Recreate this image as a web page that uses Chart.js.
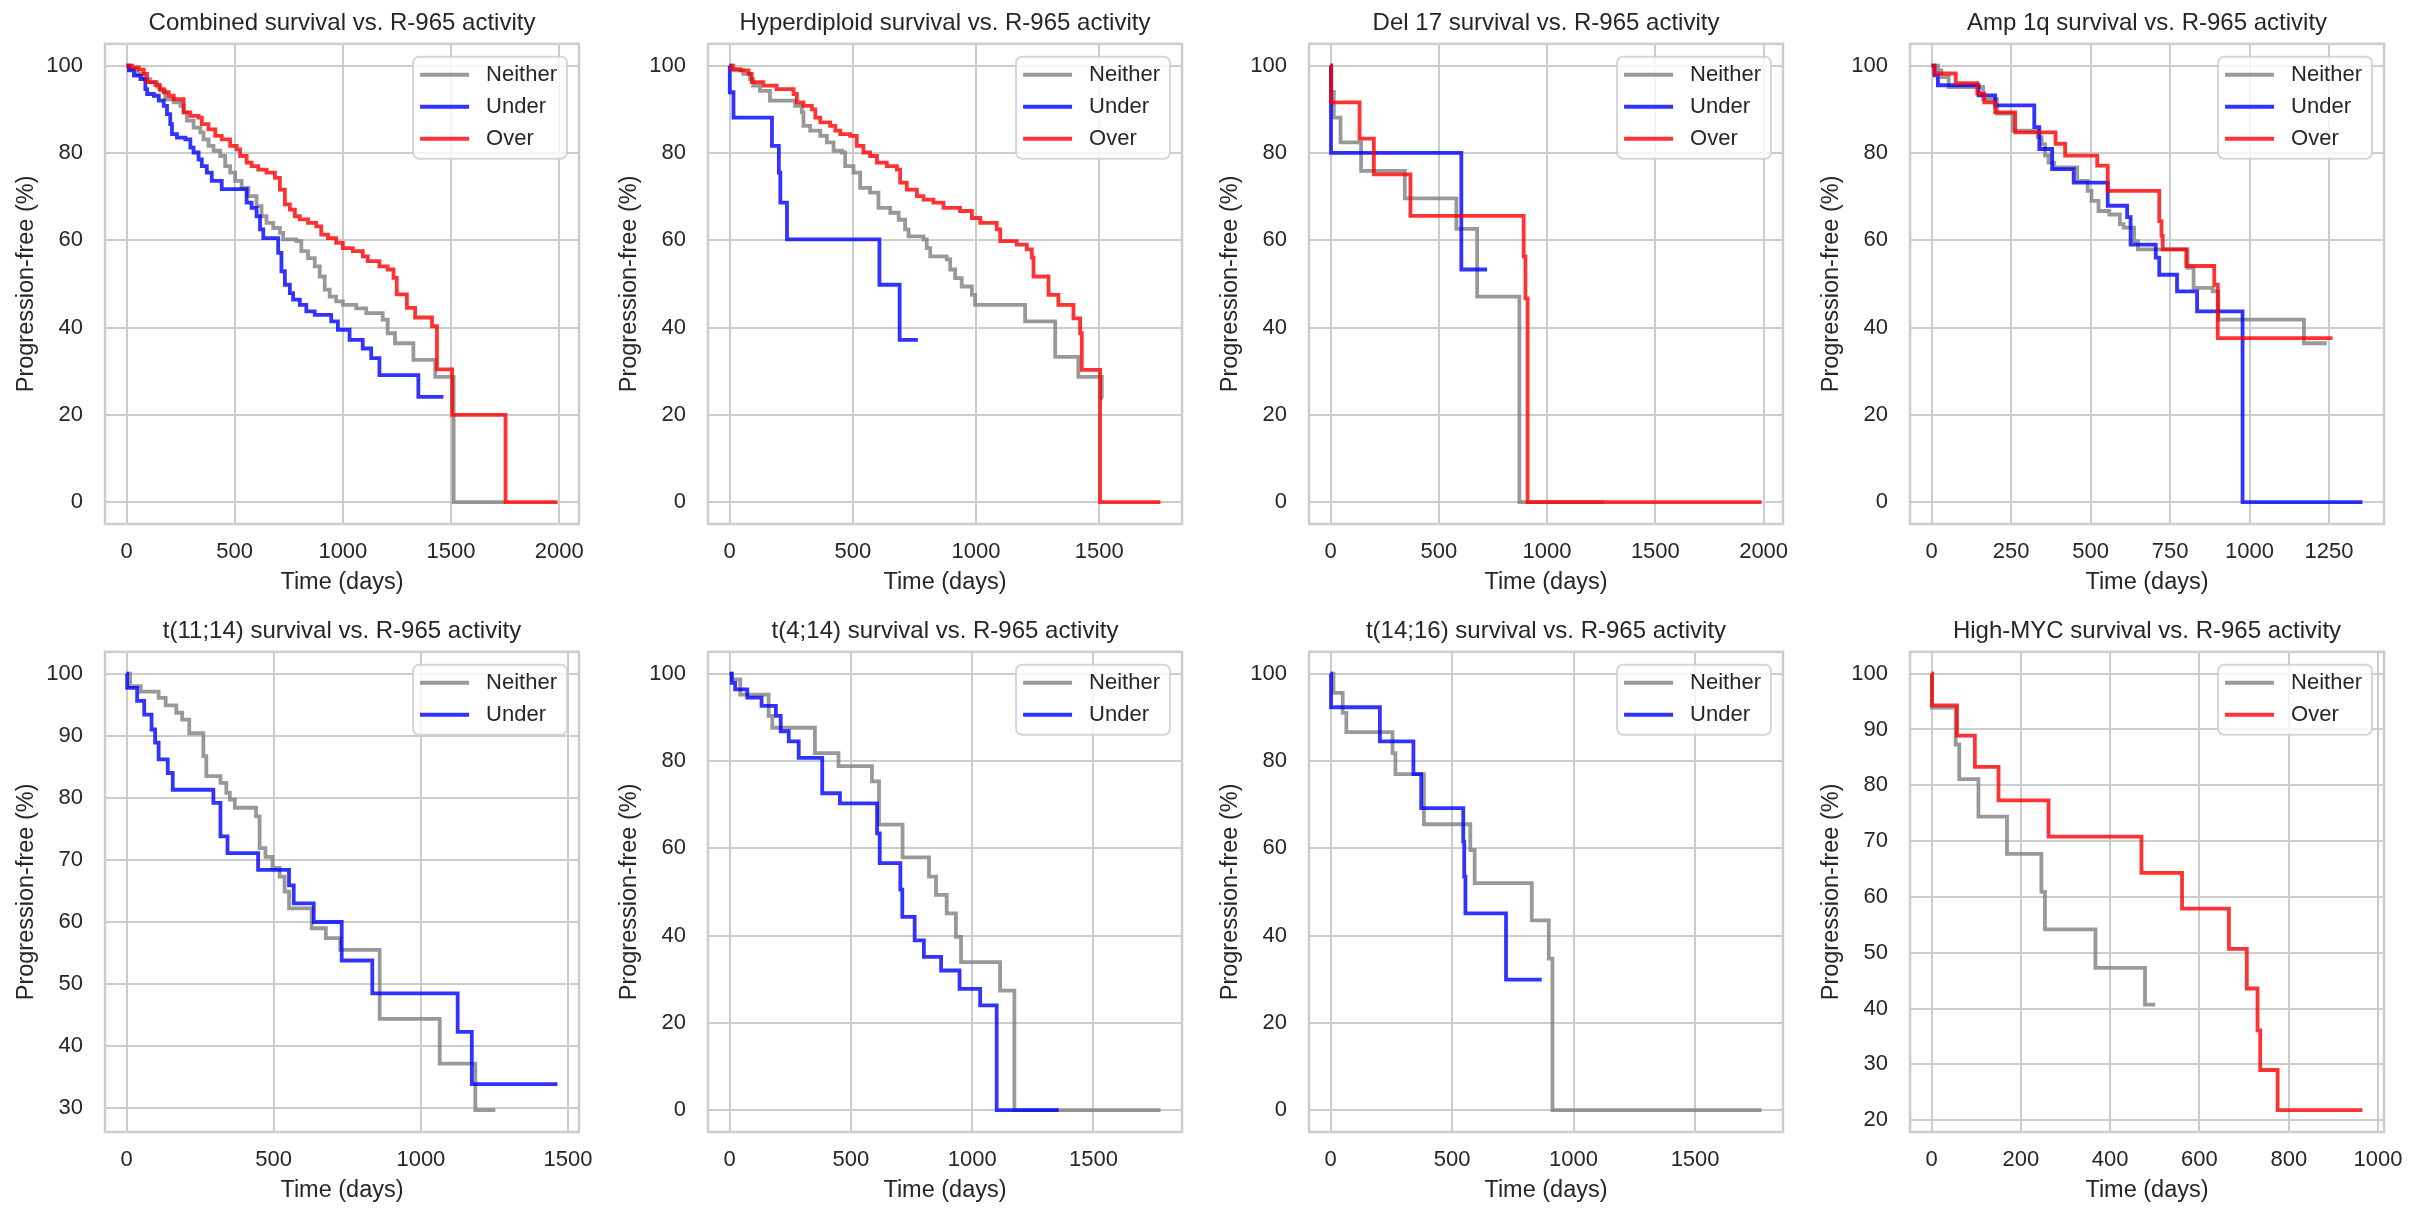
<!DOCTYPE html>
<html>
<head>
<meta charset="utf-8">
<script src="https://cdn.jsdelivr.net/npm/chart.js@4.4.0/dist/chart.umd.min.js"></script>
<style>
  html, body { margin: 0; padding: 0; background: #fff; width: 2418px; height: 1218px; overflow: hidden; }
  canvas { position: absolute; }
</style>
</head>
<body>
<script>
// ---- Combined ----
const combinedNeitherT = [0,18,49,80,110,141,156,179,218,249,264,279,310,341,356,379,402,433,456,479,502,532,563,601,624,647,678,709,724,785,808,839,870,893,916,939,969,1000,1062,1108,1184,1207,1241,1326,1427,1512,1752];
const combinedNeitherS = [100,99.2,98.1,96.9,96.2,95.2,94.3,92.3,91.6,90.8,89.3,87.4,85.8,84.7,83.1,81.6,80.5,79.3,77.0,75.5,73.6,72.0,70.1,67.8,65.5,64.0,62.8,61.7,60.2,59.8,57.5,55.9,54.0,51.7,48.7,47.1,46.0,45.2,44.4,43.3,41.8,38.7,36.4,32.6,28.7,0,0];
const combinedUnderT = [0,11,34,64,87,95,126,149,172,187,202,210,233,272,295,310,333,348,371,394,440,555,578,601,617,632,701,716,732,755,770,801,831,870,946,977,1031,1092,1131,1169,1349,1465];
const combinedUnderS = [100,98.9,97.7,96.9,94.6,93.5,93.1,92.0,90.8,88.9,86.6,84.3,83.5,83.1,81.2,80.1,78.5,77.0,75.5,73.6,71.7,68.6,67.4,65.5,62.5,60.5,57.1,52.9,49.8,47.9,46.4,45.2,43.7,42.9,41.4,39.5,37.2,35.2,33.0,29.1,24.1,24.1];
const combinedOverT = [0,26,57,80,95,133,153,172,195,218,264,295,333,348,379,410,440,479,509,525,555,578,609,647,686,709,732,755,778,801,839,877,900,931,969,1000,1046,1092,1115,1169,1207,1234,1249,1296,1334,1412,1435,1505,1752,1992];
const combinedOverS = [100,99.6,99.1,98.1,96.2,95.6,94.6,93.9,93.1,92.3,89.3,88.5,88.1,86.6,85.4,83.9,83.1,81.6,80.8,79.3,77.8,77.0,76.2,75.5,74.3,71.6,68.2,67.0,65.5,64.8,64.0,63.2,61.3,60.5,59.4,58.2,57.5,56.3,55.2,54.0,53.3,51.4,47.6,44.5,42.3,40.3,30.4,20.0,0,0];

// ---- Hyperdiploid ----
const hyperNeitherT = [0,16,56,83,96,123,164,266,293,300,327,368,395,422,456,469,503,530,570,604,652,686,712,726,787,800,814,881,895,915,942,983,996,1199,1321,1415,1510,1515];
const hyperNeitherS = [100,98.9,98.1,96.9,95.4,94.2,92.0,90.8,89.3,86.2,85.1,83.9,82.4,80.5,80.1,77.0,75.5,72.0,70.9,67.4,66.3,64.7,62.5,60.9,60.2,58.2,56.3,55.6,53.3,51.3,49.4,47.5,45.2,41.4,33.3,28.7,23.8,23.8];
const hyperUnderT = [0,1,16,172,200,206,233,608,690,764];
const hyperUnderS = [100,93.9,88.1,81.6,75.5,68.6,60.2,49.8,37.2,37.2];
const hyperOverT = [0,10,43,77,90,137,191,260,273,300,334,348,368,408,429,449,489,516,543,570,598,638,679,692,719,760,787,827,868,935,983,1017,1084,1098,1165,1206,1226,1233,1294,1334,1395,1422,1429,1503,1748];
const hyperOverS = [100,99.2,98.9,98.1,96.2,95.4,94.6,93.5,91.6,90.8,90.0,88.1,87.0,86.2,85.1,84.3,83.9,81.6,80.1,79.3,77.8,77.0,76.2,73.2,71.6,70.1,69.3,68.6,67.4,66.7,65.1,64.0,62.5,59.8,59.0,57.9,56.0,51.7,47.5,45.2,42.1,38.7,30.3,0,0];

// ---- Del 17 ----
const del17NeitherT = [0,3,15,46,141,343,581,677,872,1262];
const del17NeitherS = [100,94.0,88.1,82.4,75.9,69.6,62.6,47.1,0,0];
const del17UnderT = [0,2,604,723];
const del17UnderS = [100,80.0,53.3,53.3];
const del17OverT = [0,3,134,200,369,892,900,910,1990];
const del17OverS = [100,91.6,83.3,75.1,65.6,56.3,46.7,0,0];

// ---- Amp 1q ----
const amp1qNeitherT = [0,20,31,54,162,206,256,334,346,357,368,386,458,491,503,525,559,592,604,637,649,805,824,884,902,1171,1243];
const amp1qNeitherS = [100,98.9,97.4,95.1,92.3,89.0,85.1,83.6,82.0,79.4,77.8,76.7,73.6,71.3,69.0,66.7,65.9,63.7,62.9,59.8,57.9,53.7,49.1,48.3,41.8,36.4,36.4];
const amp1qUnderT = [0,9,20,148,200,323,339,379,447,554,615,626,705,716,772,835,978,1355];
const amp1qUnderS = [100,97.8,95.5,93.2,90.9,85.9,80.9,76.3,73.2,67.9,65.3,59.0,56.0,52.1,48.3,43.7,0,0];
const amp1qOverT = [0,9,76,144,166,200,263,390,420,521,554,716,723,727,801,889,900,1261];
const amp1qOverS = [100,98.2,96.0,93.6,91.6,89.3,84.7,82.1,79.4,77.1,71.3,64.4,61.0,57.9,54.1,49.8,37.6,37.6];

// ---- t(11;14) ----
const t1114NeitherT = [0,12,48,109,133,169,189,213,261,271,319,339,351,368,440,452,472,496,520,537,552,629,677,726,860,1064,1185,1253];
const t1114NeitherS = [100,98.0,97.1,96.1,94.9,93.7,92.6,90.4,86.7,83.5,82.4,80.8,79.7,78.4,77.0,71.9,70.5,68.7,67.3,64.9,62.2,59.0,57.4,55.5,44.4,37.2,29.7,29.7];
const t1114UnderT = [0,2,36,60,85,97,109,140,157,295,319,343,447,552,568,636,731,835,1125,1173,1464];
const t1114UnderS = [100,97.7,95.6,93.4,91.0,88.9,86.2,84.0,81.3,79.2,73.8,71.1,68.4,65.9,63.0,60.0,53.8,48.5,42.3,33.9,33.9];

// ---- t(4;14) ----
const t414NeitherT = [0,9,44,161,176,352,449,587,616,713,822,851,895,933,954,1115,1174,1776];
const t414NeitherS = [100,98.7,95.2,90.3,87.6,81.8,78.8,75.3,65.4,57.9,53.5,49.3,45.1,39.7,33.9,27.4,0,0];
const t414UnderT = [0,9,23,73,132,191,211,244,285,382,455,608,619,704,712,763,801,872,948,1033,1101,1356];
const t414UnderS = [100,97.9,96.4,94.5,92.6,90.3,86.8,84.5,80.7,72.6,70.3,63.4,56.6,50.5,44.3,38.9,35.1,32.0,27.8,24.0,0,0];

// ---- t(14;16) ----
const t1416NeitherT = [0,12,50,65,255,267,384,575,593,828,898,913,1773];
const t1416NeitherS = [100,95.6,91.0,86.6,81.8,77.0,65.5,59.6,52.0,43.5,34.7,0,0];
const t1416UnderT = [0,2,203,341,373,546,550,555,722,869];
const t1416UnderS = [100,92.3,84.5,77.0,69.2,61.5,53.5,45.1,29.9,29.9];

// ---- High-MYC ----
const mycNeitherT = [0,1,54,62,105,169,246,254,367,478,501];
const mycNeitherS = [100,93.9,87.3,81.1,74.4,67.7,60.9,54.2,47.3,40.7,40.7];
const mycOverT = [0,1,57,97,150,262,470,561,666,706,730,736,775,965];
const mycOverS = [100,94.3,88.9,83.3,77.3,70.8,64.3,57.9,50.7,43.6,36.1,29.0,21.8,21.8];

// ---- tick labels ----
const ticksDays2000 = [0,500,1000,1500,2000];
const ticksDays1500 = [0,500,1000,1500];
const ticksDays1250 = [0,250,500,750,1000,1250];
const ticksDays1000 = [0,200,400,600,800,1000];
const ticksPct20 = [0,20,40,60,80,100];
const ticksPct30 = [30,40,50,60,70,80,90,100];
const ticksPct10 = [20,30,40,50,60,70,80,90,100];

const NEITHER = 'rgba(128,128,128,0.8)';
const UNDER = 'rgba(0,0,255,0.8)';
const OVER = 'rgba(255,0,0,0.8)';
const TEXT = '#262626';
const FONT = '"Liberation Sans", Arial, sans-serif';

Chart.defaults.font.family = FONT;
Chart.defaults.color = TEXT;

// canvas size: y-axis band 105 + plot 474 + right pad 40, title 44 + plot 480 + x band 80
const CW = 619, CH = 604;

const neither = (t, s) => ({ label: 'Neither', t, s, color: NEITHER, order: 3 });
const under = (t, s) => ({ label: 'Under', t, s, color: UNDER, order: 2 });
const over = (t, s) => ({ label: 'Over', t, s, color: OVER, order: 1 });

const panels = [
  { title: 'Combined survival vs. R-965 activity', left: 0, top: 0, xTicks: ticksDays2000, yTicks: ticksPct20,
    series: [neither(combinedNeitherT, combinedNeitherS), under(combinedUnderT, combinedUnderS), over(combinedOverT, combinedOverS)] },
  { title: 'Hyperdiploid survival vs. R-965 activity', left: 602.5, top: 0, xTicks: ticksDays1500, yTicks: ticksPct20,
    series: [neither(hyperNeitherT, hyperNeitherS), under(hyperUnderT, hyperUnderS), over(hyperOverT, hyperOverS)] },
  { title: 'Del 17 survival vs. R-965 activity', left: 1203.5, top: 0, xTicks: ticksDays2000, yTicks: ticksPct20,
    series: [neither(del17NeitherT, del17NeitherS), under(del17UnderT, del17UnderS), over(del17OverT, del17OverS)] },
  { title: 'Amp 1q survival vs. R-965 activity', left: 1805, top: 0, xTicks: ticksDays1250, yTicks: ticksPct20,
    series: [neither(amp1qNeitherT, amp1qNeitherS), under(amp1qUnderT, amp1qUnderS), over(amp1qOverT, amp1qOverS)] },
  { title: 't(11;14) survival vs. R-965 activity', left: 0, top: 608, xTicks: ticksDays1500, yTicks: ticksPct30,
    series: [neither(t1114NeitherT, t1114NeitherS), under(t1114UnderT, t1114UnderS)] },
  { title: 't(4;14) survival vs. R-965 activity', left: 602.5, top: 608, xTicks: ticksDays1500, yTicks: ticksPct20,
    series: [neither(t414NeitherT, t414NeitherS), under(t414UnderT, t414UnderS)] },
  { title: 't(14;16) survival vs. R-965 activity', left: 1203.5, top: 608, xTicks: ticksDays1500, yTicks: ticksPct20,
    series: [neither(t1416NeitherT, t1416NeitherS), under(t1416UnderT, t1416UnderS)] },
  { title: 'High-MYC survival vs. R-965 activity', left: 1805, top: 608, xTicks: ticksDays1000, yTicks: ticksPct10,
    series: [neither(mycNeitherT, mycNeitherS), over(mycOverT, mycOverS)] }
];

// axes frame on all four sides
const framePlugin = {
  id: 'frame',
  afterDatasetsDraw(chart) {
    const { ctx, chartArea: a } = chart;
    ctx.save();
    ctx.strokeStyle = '#cccccc';
    ctx.lineWidth = 2.5;
    ctx.strokeRect(a.left, a.top, a.right - a.left, a.bottom - a.top);
    ctx.restore();
  }
};

function roundRect(ctx, x, y, w, h, r) {
  ctx.beginPath();
  ctx.moveTo(x + r, y);
  ctx.arcTo(x + w, y, x + w, y + h, r);
  ctx.arcTo(x + w, y + h, x, y + h, r);
  ctx.arcTo(x, y + h, x, y, r);
  ctx.arcTo(x, y, x + w, y, r);
  ctx.closePath();
}

// legend inside the plot, upper right
const boxLegend = {
  id: 'boxLegend',
  afterDraw(chart) {
    const { ctx, chartArea: a } = chart;
    const sets = chart.data.datasets;
    ctx.save();
    ctx.font = '22px ' + FONT;
    const tw = Math.max(...sets.map(d => ctx.measureText(d.label).width));
    const w = 73 + tw + 10, h = 38 + 32 * (sets.length - 1);
    const x0 = a.right - 12 - w, y0 = a.top + 13;
    roundRect(ctx, x0, y0, w, h, 6);
    ctx.fillStyle = 'rgba(255,255,255,0.8)';
    ctx.fill();
    ctx.strokeStyle = 'rgba(204,204,204,0.8)';
    ctx.lineWidth = 2;
    ctx.stroke();
    sets.forEach((d, k) => {
      const y = y0 + 18 + 32 * k;
      ctx.strokeStyle = d.borderColor;
      ctx.lineWidth = 4;
      ctx.beginPath();
      ctx.moveTo(x0 + 7, y);
      ctx.lineTo(x0 + 56, y);
      ctx.stroke();
      ctx.fillStyle = TEXT;
      ctx.textBaseline = 'middle';
      ctx.textAlign = 'left';
      ctx.fillText(d.label, x0 + 73, y);
    });
    ctx.restore();
  }
};

panels.forEach(p => {
  const cv = document.createElement('canvas');
  cv.width = CW; cv.height = CH;
  cv.style.left = p.left + 'px';
  cv.style.top = p.top + 'px';
  cv.style.width = CW + 'px';
  cv.style.height = CH + 'px';
  document.body.appendChild(cv);

  const xmax = Math.max(...p.series.map(s => Math.max(...s.t)));
  const ymin = Math.min(...p.series.map(s => Math.min(...s.s)));
  const ymax = Math.max(...p.series.map(s => Math.max(...s.s)));
  const ypad = 0.05 * (ymax - ymin);

  new Chart(cv, {
    type: 'line',
    data: {
      datasets: p.series.map(s => ({
        label: s.label,
        data: s.t.map((t, k) => ({ x: t, y: s.s[k] })),
        borderColor: s.color,
        borderWidth: 3.8,
        borderJoinStyle: 'miter',
        pointRadius: 0,
        stepped: true,
        fill: false,
        order: s.order
      }))
    },
    options: {
      responsive: false,
      animation: false,
      devicePixelRatio: 1,
      layout: { padding: { left: 0, top: 0, right: 40, bottom: 0 } },
      plugins: {
        legend: { display: false },
        tooltip: { enabled: false },
        title: {
          display: true, text: p.title, fullSize: false, color: TEXT,
          font: { size: 24, weight: 'normal' },
          padding: { top: 9, bottom: 6 }
        }
      },
      scales: {
        x: {
          type: 'linear',
          min: -0.05 * xmax, max: 1.05 * xmax,
          afterFit: s => { s.height = 80; },
          afterBuildTicks: ax => { ax.ticks = p.xTicks.map(v => ({ value: v })); },
          ticks: { font: { size: 22 }, padding: 14.5, maxRotation: 0, autoSkip: false, callback: v => String(v) },
          grid: { color: '#cccccc', lineWidth: 2, drawTicks: false },
          border: { display: false },
          title: { display: true, text: 'Time (days)', font: { size: 23.5 }, padding: { top: 0, bottom: 7 } }
        },
        y: {
          type: 'linear',
          min: ymin - ypad, max: ymax + ypad,
          afterFit: s => { s.width = 105; },
          afterBuildTicks: ax => { ax.ticks = p.yTicks.map(v => ({ value: v })); },
          ticks: { font: { size: 22 }, padding: 22, autoSkip: false, callback: v => String(v) },
          grid: { color: '#cccccc', lineWidth: 2, drawTicks: false },
          border: { display: false },
          title: { display: true, text: 'Progression-free (%)', font: { size: 23.5 }, padding: { top: 12, bottom: 0 } }
        }
      }
    },
    plugins: [framePlugin, boxLegend]
  });
});
</script>
</body>
</html>
